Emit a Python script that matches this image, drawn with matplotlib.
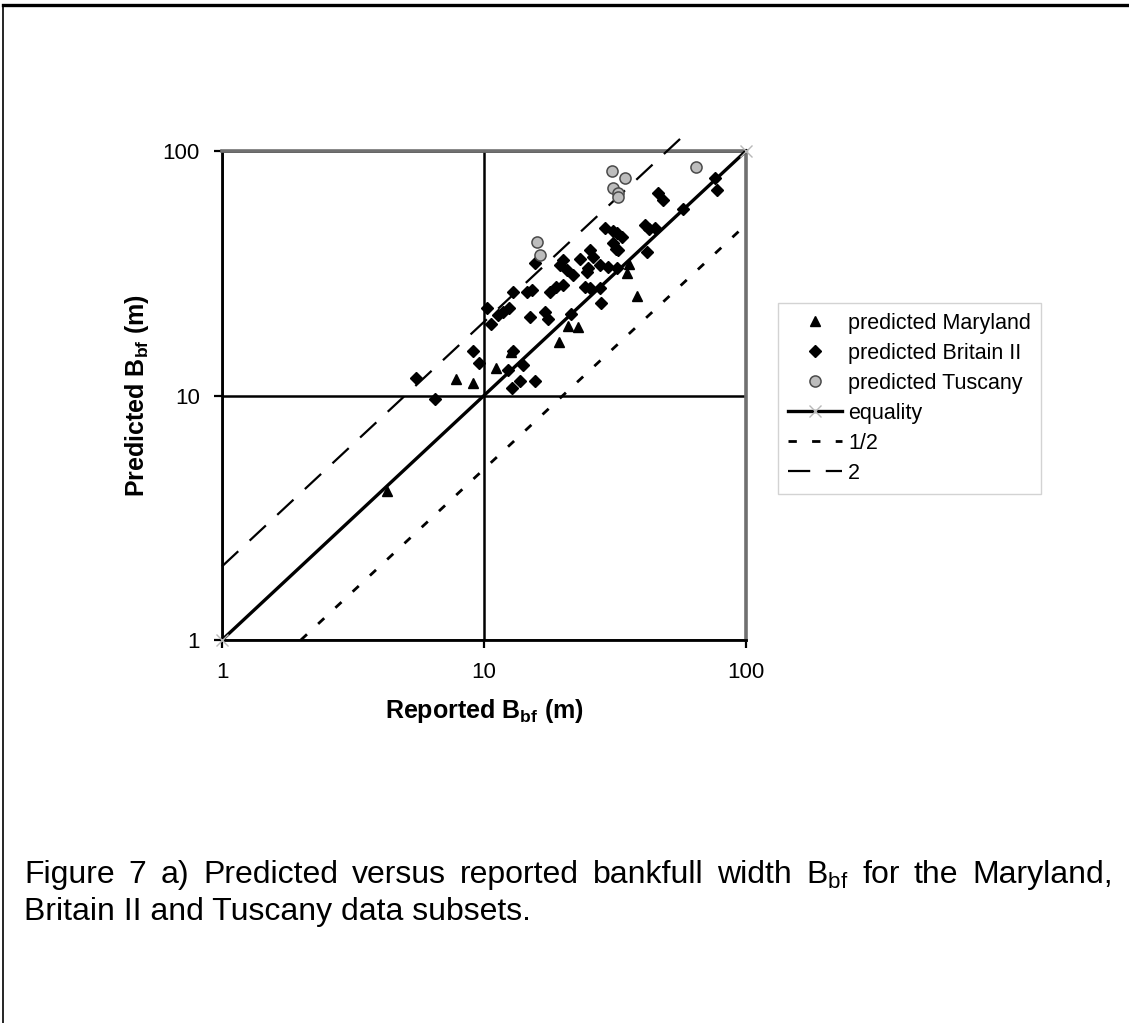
import matplotlib
matplotlib.use("Agg")
import matplotlib.pyplot as plt
from matplotlib.lines import Line2D
from matplotlib.ticker import FixedLocator, NullLocator, FixedFormatter

plt.rcParams['font.family'] = ['Liberation Sans', 'DejaVu Sans']
plt.rcParams['mathtext.fontset'] = 'custom'
plt.rcParams['mathtext.rm'] = 'Liberation Sans'
plt.rcParams['mathtext.it'] = 'Liberation Sans:italic'
plt.rcParams['mathtext.bf'] = 'Liberation Sans:bold'

# Bankfull widths (m): reported vs predicted, per data subset
maryland_reported = [4.25, 7.8, 9.1, 11.1, 12.7, 19.4, 21.0, 22.9, 35.2, 35.7, 38.5]
maryland_predicted = [4.08, 11.7, 11.2, 12.9, 15.1, 16.6, 19.2, 19.1, 31.7, 34.4, 25.5]

britain_reported = [5.5, 6.5, 9.1, 9.6, 10.3, 10.6, 11.3, 11.8, 12.5, 12.3, 12.8, 13.7,
                    14.1, 15.7, 12.9, 15.0, 17.1, 17.6, 12.9, 14.6, 15.3, 15.7, 17.9,
                    18.9, 20.1, 19.5, 20.1, 20.7, 21.9, 21.4, 23.3, 25.0, 24.7, 25.4,
                    26.1, 27.7, 29.8, 24.3, 25.4, 27.7, 27.9, 29.0, 31.2, 32.1, 33.5,
                    31.2, 31.9, 32.6, 32.1, 41.2, 42.5, 45.0, 41.8, 46.3, 48.3, 57.6,
                    76.2, 77.7]
britain_predicted = [11.8, 9.7, 15.2, 13.6, 22.8, 19.7, 21.3, 22.0, 22.7, 12.7, 10.7, 11.5,
                     13.3, 11.5, 15.2, 20.9, 21.9, 20.6, 26.5, 26.5, 27.1, 34.9, 26.5,
                     27.8, 28.2, 34.1, 35.8, 32.5, 31.0, 21.6, 36.0, 33.1, 32.0, 39.3,
                     36.9, 34.1, 33.6, 27.8, 27.4, 27.4, 23.8, 48.2, 47.0, 46.0, 44.5,
                     41.9, 39.9, 39.3, 33.1, 49.7, 48.0, 48.2, 38.7, 67.1, 63.0, 57.7,
                     77.3, 69.2]

tuscany_reported = [16.0, 16.3, 30.9, 34.5, 31.2, 32.6, 32.6, 64.3]
tuscany_predicted = [42.5, 37.4, 82.8, 77.3, 70.7, 67.5, 65.0, 86.2]

# Reference lines: predicted = ratio * reported
equality_x = [1, 100]
half_x = [2, 100]
double_x = [1, 56]

axis_ticks = [1, 10, 100]
axis_tick_labels = ['1', '10', '100']

legend_labels = ['predicted Maryland', 'predicted Britain II', 'predicted Tuscany',
                 'equality', '1/2', '2']

W, H = 1129, 1023
fig = plt.figure(figsize=(W / 100, H / 100), dpi=100)
fig.patch.set_facecolor('white')

ax = fig.add_axes([222 / W, 1 - 640 / H, 524 / W, 489 / H])
ax.set_xscale('log')
ax.set_yscale('log')
ax.set_xlim(1, 100)
ax.set_ylim(1, 100)

for side in ('left', 'bottom'):
    ax.spines[side].set_color('black')
    ax.spines[side].set_linewidth(2.0)
for side in ('top', 'right'):
    ax.spines[side].set_color('#707070')
    ax.spines[side].set_linewidth(2.6)

ax.xaxis.set_major_locator(FixedLocator(axis_ticks))
ax.yaxis.set_major_locator(FixedLocator(axis_ticks))
ax.xaxis.set_major_formatter(FixedFormatter(axis_tick_labels))
ax.yaxis.set_major_formatter(FixedFormatter(axis_tick_labels))
ax.xaxis.set_minor_locator(NullLocator())
ax.yaxis.set_minor_locator(NullLocator())
ax.tick_params(axis='both', which='major', direction='out', length=6, width=1.6,
               color='black', labelsize=16, pad=10)
ax.grid(True, which='major', color='black', linewidth=1.8)
ax.set_axisbelow(True)

ax.plot(maryland_reported, maryland_predicted, linestyle='none', marker='^',
        markersize=7, color='black', label=legend_labels[0], zorder=3)
ax.plot(britain_reported, britain_predicted, linestyle='none', marker='D',
        markersize=6.5, color='black', label=legend_labels[1], zorder=3)
ax.plot(tuscany_reported, tuscany_predicted, linestyle='none', marker='o',
        markersize=8, markerfacecolor='#bdbdbd', markeredgecolor='#4a4a4a',
        markeredgewidth=1.1, label=legend_labels[2], zorder=4)

ax.plot(equality_x, equality_x, color='black', linewidth=2.4, marker='x',
        markersize=9, markeredgecolor='#b8b8b8', markeredgewidth=1.0,
        label=legend_labels[3], zorder=3.5, clip_on=False)
ax.plot(half_x, [v / 2 for v in half_x], color='black', linewidth=2.0,
        linestyle=(0, (3, 5.5)), label=legend_labels[4], zorder=3.5, clip_on=False)
ax.plot(double_x, [v * 2 for v in double_x], color='black', linewidth=1.6,
        linestyle=(0, (10, 7)), label=legend_labels[5], zorder=3.5, clip_on=False)

ax.set_xlabel(r'Reported $\mathbf{B}_{\mathbf{bf}}$ (m)', fontsize=18,
              fontweight='bold', labelpad=10)
ax.set_ylabel(r'Predicted $\mathbf{B}_{\mathbf{bf}}$ (m)', fontsize=18,
              fontweight='bold', labelpad=8)

leg = ax.legend(loc='upper left', bbox_to_anchor=(778 / W, 1 - 303 / H),
                bbox_transform=fig.transFigure, fontsize=15.5, frameon=True,
                fancybox=False, edgecolor='#c8c8c8', handlelength=2.5,
                handletextpad=0.3, labelspacing=0.42, borderpad=0.45,
                borderaxespad=0)
leg.get_frame().set_linewidth(1.0)

# Page border (top and left edges)
fig.add_artist(Line2D([3 / W, 1], [1 - 5 / H, 1 - 5 / H], transform=fig.transFigure,
                      color='black', linewidth=2.4))
fig.add_artist(Line2D([3 / W, 3 / W], [0, 1 - 5 / H], transform=fig.transFigure,
                      color='black', linewidth=1.2))

# Caption: first line justified between margins, second line left aligned
cap_size = 23
line1 = ['Figure', '7', 'a)', 'Predicted', 'versus', 'reported', 'bankfull', 'width',
         r'B$_{\mathregular{bf}}$', 'for', 'the', 'Maryland,']
line2 = 'Britain II and Tuscany data subsets.'
x_left, x_right = 24, 1113
y1, y2 = 875, 912
renderer = fig.canvas.get_renderer()
texts = [fig.text(0, 1 - y1 / H, w, fontsize=cap_size, va='center', ha='left')
         for w in line1]
widths = [t.get_window_extent(renderer).width for t in texts]
gap = (x_right - x_left - sum(widths)) / (len(widths) - 1)
x = x_left
for t, w in zip(texts, widths):
    t.set_x(x / W)
    x += w + gap
fig.text(x_left / W, 1 - y2 / H, line2, fontsize=cap_size, va='center', ha='left')

fig.savefig('out.png', dpi=100, facecolor='white')
